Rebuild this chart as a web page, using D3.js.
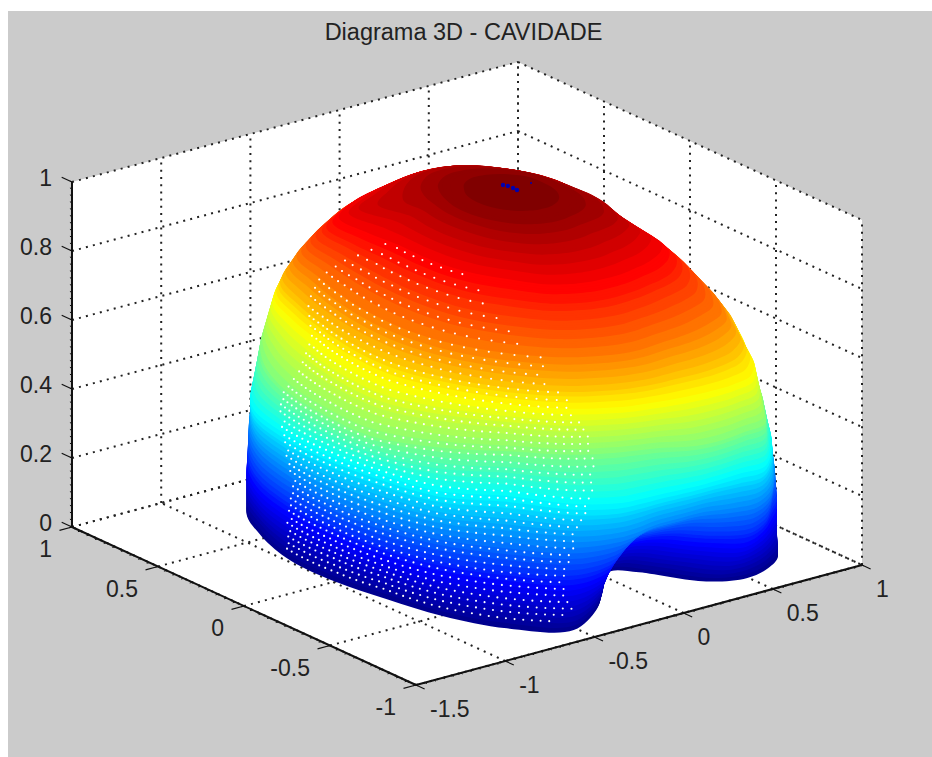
<!DOCTYPE html>
<html>
<head>
<meta charset="utf-8">
<script src="https://cdn.jsdelivr.net/npm/d3@7"></script>
<style>
  html, body { margin: 0; padding: 0; background: #fff; }
  svg { display: block; }
  text { font-family: "Liberation Sans", Arial, sans-serif; fill: #222; font-size: 23px; }
</style>
</head>
<body>
<svg id="chart" width="932" height="757"></svg>
<script>
const titleText = "Diagrama 3D - CAVIDADE";
const xTicks = [-1.5, -1, -0.5, 0, 0.5, 1];
const yTicks = [-1, -0.5, 0, 0.5, 1];
const zTicks = [0, 0.2, 0.4, 0.6, 0.8, 1];

// surface: radius of the horizontal slice at each height and azimuth (degrees)
const azimuths = [0, 25, 50, 75, 100, 120, 136, 150, 165, 180, 195, 210, 225, 240, 250, 255, 262, 270, 278, 285, 292, 300, 308, 316, 330, 345];
const heights = [0, 0.03, 0.07, 0.12, 0.18, 0.26, 0.375, 0.5, 0.625, 0.69, 0.75, 0.81, 0.875, 0.915, 0.95, 0.985, 1];
const radii = [
  [1.00, 1.00, 1.00, 1.00, 1.00, 1.05, 1.07, 1.04, 1.02, 0.99, 0.975, 1.01, 1.05, 1.04, 0.84, 0.74, 0.61, 0.54, 0.515, 0.60, 0.86, 0.99, 1.045, 1.075, 1.04, 1.00],
  [1.00, 1.00, 1.00, 1.00, 1.00, 1.05, 1.07, 1.04, 1.025, 0.995, 0.985, 1.03, 1.055, 1.06, 0.86, 0.76, 0.63, 0.56, 0.56, 0.68, 0.93, 1.01, 1.05, 1.075, 1.04, 1.00],
  [1.00, 1.00, 1.00, 1.00, 1.00, 1.05, 1.07, 1.05, 1.03, 1.00, 1.00, 1.04, 1.06, 1.07, 0.89, 0.78, 0.67, 0.61, 0.63, 0.78, 0.98, 1.03, 1.055, 1.07, 1.04, 1.00],
  [1.00, 1.00, 1.00, 1.00, 1.00, 1.05, 1.07, 1.06, 1.035, 1.02, 1.03, 1.06, 1.07, 1.08, 0.94, 0.83, 0.72, 0.68, 0.72, 0.88, 1.03, 1.05, 1.06, 1.07, 1.04, 1.00],
  [1.00, 1.00, 1.00, 1.00, 1.00, 1.05, 1.065, 1.06, 1.04, 1.03, 1.05, 1.07, 1.08, 1.09, 1.00, 0.92, 0.81, 0.80, 0.84, 0.97, 1.06, 1.07, 1.06, 1.07, 1.04, 1.00],
  [1.00, 1.00, 1.00, 1.00, 1.00, 1.05, 1.06, 1.06, 1.04, 1.04, 1.05, 1.07, 1.06, 1.09, 1.06, 1.03, 0.98, 0.97, 0.98, 1.04, 1.09, 1.09, 1.07, 1.06, 1.03, 1.00],
  [1.00, 1.00, 1.00, 1.00, 1.00, 1.02, 1.044, 1.08, 1.06, 1.04, 1.04, 1.07, 1.02, 1.08, 1.09, 1.07, 1.05, 1.05, 1.06, 1.08, 1.12, 1.09, 1.06, 1.035, 1.00, 1.00],
  [1.00, 0.98, 1.00, 1.00, 0.98, 1.00, 1.013, 1.03, 1.05, 1.07, 1.11, 1.06, 1.00, 1.01, 1.01, 1.01, 1.02, 1.07, 1.09, 1.10, 1.12, 1.06, 1.02, 0.98, 0.95, 0.97],
  [0.94, 0.93, 0.95, 0.95, 0.92, 0.95, 0.96, 0.915, 0.895, 0.92, 0.96, 0.96, 0.97, 0.99, 0.995, 1.00, 1.00, 1.01, 1.03, 1.05, 1.06, 1.02, 0.96, 0.93, 0.88, 0.90],
  [0.85, 0.89, 0.92, 0.93, 0.89, 0.89, 0.925, 0.88, 0.86, 0.87, 0.90, 0.925, 0.945, 0.965, 0.965, 0.965, 0.96, 0.95, 0.96, 0.97, 0.975, 0.96, 0.91, 0.88, 0.82, 0.84],
  [0.74, 0.83, 0.87, 0.89, 0.85, 0.84, 0.87, 0.81, 0.79, 0.80, 0.83, 0.86, 0.88, 0.90, 0.90, 0.90, 0.89, 0.87, 0.87, 0.875, 0.88, 0.885, 0.85, 0.81, 0.75, 0.73],
  [0.64, 0.74, 0.80, 0.83, 0.78, 0.77, 0.80, 0.72, 0.67, 0.66, 0.675, 0.705, 0.725, 0.755, 0.755, 0.755, 0.75, 0.735, 0.73, 0.73, 0.74, 0.75, 0.74, 0.72, 0.675, 0.65],
  [0.54, 0.61, 0.68, 0.70, 0.65, 0.67, 0.70, 0.60, 0.52, 0.505, 0.51, 0.52, 0.53, 0.57, 0.58, 0.58, 0.58, 0.58, 0.58, 0.58, 0.59, 0.60, 0.61, 0.61, 0.55, 0.51],
  [0.43, 0.50, 0.55, 0.58, 0.56, 0.56, 0.60, 0.45, 0.42, 0.41, 0.41, 0.42, 0.43, 0.455, 0.46, 0.46, 0.46, 0.46, 0.46, 0.46, 0.47, 0.48, 0.49, 0.50, 0.46, 0.44],
  [0.37, 0.38, 0.415, 0.46, 0.45, 0.41, 0.37, 0.335, 0.32, 0.31, 0.31, 0.32, 0.33, 0.34, 0.34, 0.34, 0.34, 0.34, 0.34, 0.34, 0.35, 0.37, 0.39, 0.40, 0.40, 0.385],
  [0.24, 0.26, 0.26, 0.26, 0.26, 0.25, 0.24, 0.24, 0.24, 0.24, 0.24, 0.24, 0.24, 0.24, 0.24, 0.24, 0.24, 0.24, 0.24, 0.24, 0.24, 0.24, 0.24, 0.24, 0.24, 0.24],
  [0, 0, 0, 0, 0, 0, 0, 0, 0, 0, 0, 0, 0, 0, 0, 0, 0, 0, 0, 0, 0, 0, 0, 0, 0, 0]
];

// rows of white markers on the front of the surface: height, first and last azimuth, azimuth step
const dotRowZ = [0.03, 0.05, 0.07, 0.09, 0.11, 0.13, 0.15, 0.17, 0.19, 0.21, 0.23, 0.25, 0.27, 0.29, 0.31, 0.33, 0.35, 0.37, 0.39, 0.41, 0.43, 0.45, 0.47, 0.49, 0.51, 0.53, 0.55, 0.57, 0.59, 0.61, 0.63, 0.65, 0.67, 0.69, 0.71, 0.73, 0.75, 0.77, 0.79, 0.81, 0.83, 0.85, 0.87];
const dotRowFrom = [164, 164, 165, 165, 165, 166, 166, 166, 167, 167, 168, 168, 167, 166, 166, 166, 166, 165, 165, 165, 164, 164, 165, 165, 166, 166, 166, 165, 164, 163, 162, 160, 158, 156, 154, 153, 152, 152, 153, 154, 156, 158, 160];
const dotRowTo = [236, 239, 240, 239, 238, 238, 238, 238, 239, 240, 240, 241, 241, 241, 241, 242, 243, 243, 244, 244, 245, 245, 245, 245, 245, 244, 244, 243, 242, 241, 240, 240, 238, 236, 235, 235, 234, 231, 228, 224, 219, 214, 208];
const dotRowStep = [1.9, 1.9, 1.9, 1.9, 1.9, 1.9, 1.9, 1.9, 1.9, 1.9, 1.9, 1.9, 1.9, 1.9, 1.9, 1.9, 1.9, 1.9, 1.9, 1.9, 1.9, 1.9, 1.9, 1.9, 1.9, 1.9, 1.9, 1.9, 1.9, 2.2, 2.2, 2.4, 2.4, 2.6, 2.8, 3, 3.4, 3.6, 3.8, 4.2, 4.6, 5, 5.5];

// the small dark blue speck near the top
const speckX = [0, 0.01, 0.013, 0.011, 0.115];
const speckY = [0.05, 0.032, 0.005, -0.02, 0.006];

const width = 932, height = 757;
const svg = d3.select("#chart");

// box projection
const xPxX = d3.scaleLinear().domain([-1.5, 1]).range([416, 862]);
const xPxY = d3.scaleLinear().domain([-1.5, 1]).range([685, 565]);
const yPxX = d3.scaleLinear().domain([-1, 1]).range([0, -344]);
const yPxY = d3.scaleLinear().domain([-1, 1]).range([0, -158]);
const zPxY = d3.scaleLinear().domain([0, 1]).range([0, -345]);
const project = (x, y, z) => [xPxX(x) + yPxX(y), xPxY(x) + yPxY(y) + zPxY(z)];

// jet colormap with its 64 steps
const jetRamp = d3.scaleLinear()
  .domain([0, 0.125, 0.375, 0.625, 0.875, 1])
  .range(["#00008f", "#0000ff", "#00ffff", "#ffff00", "#ff0000", "#800000"])
  .interpolate(d3.interpolateRgb);
const jet = v => jetRamp(Math.min(63, Math.floor(v * 64)) / 63);

svg.append("rect").attr("x", 8).attr("y", 11).attr("width", width - 8).attr("height", height - 11).attr("fill", "#cbcbcb");

svg.append("text")
  .attr("x", 463.5).attr("y", 32)
  .attr("text-anchor", "middle").attr("dominant-baseline", "central")
  .style("font-size", "23.5px")
  .text(titleText);

// white box faces
const boxLine = d3.line();
svg.append("path")
  .attr("d", boxLine([project(-1.5, 1, 1), project(1, 1, 1), project(1, -1, 1), project(1, -1, 0), project(-1.5, -1, 0), project(-1.5, 1, 0)]) + "Z")
  .attr("fill", "#fff");

// dotted grid
const gridLines = [];
xTicks.forEach(x => {
  gridLines.push([project(x, 1, 0), project(x, 1, 1)]);
  gridLines.push([project(x, -1, 0), project(x, 1, 0)]);
});
yTicks.forEach(y => {
  gridLines.push([project(1, y, 0), project(1, y, 1)]);
  gridLines.push([project(-1.5, y, 0), project(1, y, 0)]);
});
zTicks.forEach(z => {
  gridLines.push([project(-1.5, 1, z), project(1, 1, z)]);
  gridLines.push([project(1, 1, z), project(1, -1, z)]);
});
svg.append("g").selectAll("path").data(gridLines).enter().append("path")
  .attr("d", boxLine)
  .attr("fill", "none")
  .attr("stroke", "#222")
  .attr("stroke-width", 2)
  .attr("stroke-dasharray", "2 5.2");

// surface: horizontal slices painted from the bottom up
const radiusAt = azimuths.map((a, i) => d3.scaleLinear().domain(heights).range(radii.map(row => row[i])));
const slice = z => azimuths.map((a, i) => {
  const t = a * Math.PI / 180, r = radiusAt[i](z);
  return project(r * Math.cos(t), r * Math.sin(t), z);
});
const sliceLine = d3.line().curve(d3.curveCatmullRomClosed.alpha(0.5));
svg.append("g").selectAll("path").data(d3.range(0, 1, 0.004)).enter().append("path")
  .attr("d", z => sliceLine(slice(z)))
  .attr("fill", z => jet(z));

// white markers
const azDomain = azimuths.concat([360]);
const dots = [];
dotRowZ.forEach((z, k) => {
  const ring = azimuths.map((a, i) => radiusAt[i](z));
  const radiusScale = d3.scaleLinear().domain(azDomain).range(ring.concat([ring[0]]));
  const offset = (k % 2 && z < 0.45) ? dotRowStep[k] / 2 : 0;
  d3.range(dotRowFrom[k] + offset, dotRowTo[k], dotRowStep[k]).forEach(a => {
    const t = a * Math.PI / 180, r = radiusScale(a);
    dots.push(project(r * Math.cos(t), r * Math.sin(t), z));
  });
});
svg.append("g").selectAll("circle").data(dots).enter().append("circle")
  .attr("cx", d => d[0]).attr("cy", d => d[1]).attr("r", 1.05)
  .attr("fill", "#fff");

// blue speck
svg.append("g").selectAll("circle").data(speckX).enter().append("circle")
  .attr("cx", (d, i) => project(d, speckY[i], 1)[0])
  .attr("cy", (d, i) => project(d, speckY[i], 1)[1])
  .attr("r", (d, i) => i < 4 ? 2.2 : 1)
  .attr("fill", "#0000b0");

// axes with their ticks
const axes = svg.append("g").attr("stroke", "#111").attr("fill", "none");
const drawSeg = (a, b, w) => axes.append("path").attr("d", boxLine([a, b])).attr("stroke-width", w);

drawSeg(project(-1.5, -1, 0), project(1, -1, 0), 2);
drawSeg(project(-1.5, -1, 0), project(-1.5, 1, 0), 2);
drawSeg(project(-1.5, 1, 0), project(-1.5, 1, 1), 2);

d3.range(-1.5, 1.0001, 0.05).forEach(x => drawSeg(project(x, -1, 0), project(x, -1.012, 0), 1));
d3.range(-1, 1.0001, 0.05).forEach(y => drawSeg(project(-1.5, y, 0), project(-1.515, y, 0), 1));
d3.range(0, 1.0001, 0.02).forEach(z => drawSeg(project(-1.5, 1, z), project(-1.5, 1.012, z), 1));

xTicks.forEach(x => drawSeg(project(x, -1, 0), project(x, -1.05, 0), 1.2));
yTicks.forEach(y => drawSeg(project(-1.5, y, 0), project(-1.57, y, 0), 1.2));
zTicks.forEach(z => drawSeg(project(-1.5, 1, z), project(-1.5, 1.06, z), 1.2));

const labels = svg.append("g");
const fmt = d => String(d);
xTicks.forEach(x => {
  const p = project(x, -1, 0);
  labels.append("text").attr("x", p[0] + 14).attr("y", p[1] + 24)
    .attr("dominant-baseline", "central").text(fmt(x));
});
yTicks.forEach(y => {
  const p = project(-1.5, y, 0);
  labels.append("text").attr("x", p[0] - 20).attr("y", p[1] + 22)
    .attr("text-anchor", "end").attr("dominant-baseline", "central").text(fmt(y));
});
zTicks.forEach(z => {
  const p = project(-1.5, 1, z);
  labels.append("text").attr("x", p[0] - 20).attr("y", p[1] - 4)
    .attr("text-anchor", "end").attr("dominant-baseline", "central").text(fmt(z));
});
</script>
</body>
</html>
